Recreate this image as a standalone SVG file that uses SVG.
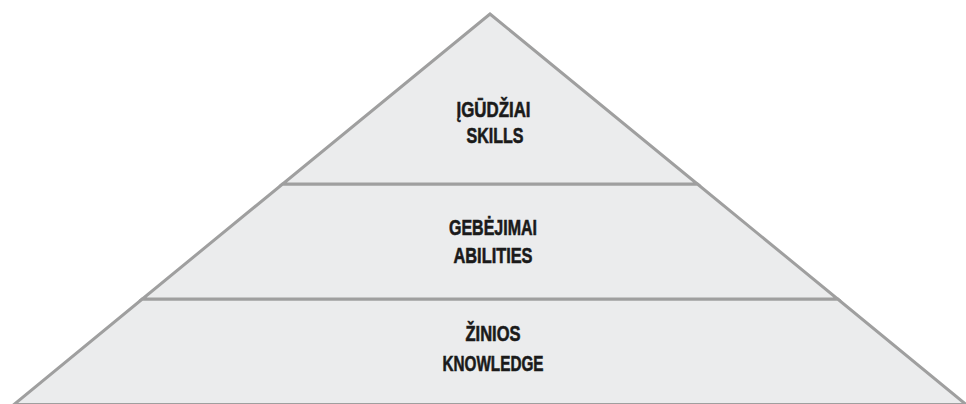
<svg xmlns="http://www.w3.org/2000/svg" width="966" height="404" viewBox="0 0 966 404">
<style>
.layer{fill:#ebeced;stroke:#9f9f9f;stroke-width:3;stroke-linejoin:miter}
.lbl{font-family:"Liberation Sans Narrow","Liberation Sans",Arial,sans-serif;font-weight:bold;font-size:22px;fill:#1a1a1a;stroke:#1a1a1a;stroke-width:0.6;text-anchor:middle}
</style>
<rect x="0" y="0" width="966" height="404" fill="#ffffff"/>
<g id="layer-bottom">
<polygon class="layer" points="142.3,299 837.7,299 966,404.5 14,404.5"/>
<text class="lbl" x="493" y="341" textLength="55" lengthAdjust="spacingAndGlyphs">ŽINIOS</text>
<text class="lbl" x="493" y="371" textLength="101" lengthAdjust="spacingAndGlyphs">KNOWLEDGE</text>
</g>
<g id="layer-middle">
<polygon class="layer" points="282.6,184 697.4,184 837.7,299 142.3,299"/>
<text class="lbl" x="493" y="235" textLength="88" lengthAdjust="spacingAndGlyphs">GEBĖJIMAI</text>
<text class="lbl" x="493" y="263" textLength="79" lengthAdjust="spacingAndGlyphs">ABILITIES</text>
</g>
<g id="layer-top">
<polygon class="layer" points="490,14 697.4,184 282.6,184"/>
<text class="lbl" x="493.5" y="117" textLength="74" lengthAdjust="spacingAndGlyphs">ĮGŪDŽIAI</text>
<text class="lbl" x="495" y="143" textLength="57" lengthAdjust="spacingAndGlyphs">SKILLS</text>
</g>
<g id="connectors"></g>
</svg>
